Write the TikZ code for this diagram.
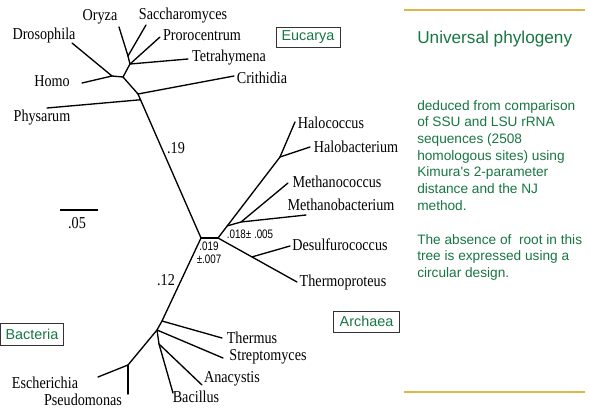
\documentclass[tikz,border=0pt]{standalone}
\usepackage{fontspec}
\setmainfont{Liberation Serif}
\newfontfamily\arial{Liberation Sans}
\usetikzlibrary{calc}
\definecolor{tgreen}{RGB}{24,118,66}
\definecolor{gold}{RGB}{222,182,72}
\newcommand\cmpr[1]{\scalebox{0.85}[1]{#1}}
\newcommand\cmprs[1]{\scalebox{0.8}[1]{#1}}
\begin{document}
\begin{tikzpicture}[x=0.75pt,y=-0.75pt,
  br/.style={line width=1pt, line cap=round, line join=round},
  leaf/.style={font=\fontsize{12.5}{13}\selectfont, inner sep=0pt},
  small/.style={font=\arial\fontsize{9.2}{10}\selectfont, inner sep=0pt},
  grp/.style={draw=black!80, line width=0.6pt, fill=white, font=\arial\fontsize{10.8}{12}\selectfont, text=tgreen, inner sep=0pt},
  rule/.style={draw=gold, line width=1.6pt},
  body/.style={font=\arial\fontsize{10.25}{12.5}\selectfont, text=tgreen, inner sep=0pt, align=left}]
\useasboundingbox (0,0) rectangle (590,408);

% ---------- internal coordinates ----------
\coordinate (m) at (201,238);
\coordinate (a) at (218,238);
\coordinate (e1) at (128,56);
\coordinate (e2) at (130,64);
\coordinate (e3) at (123,77);
\coordinate (e4) at (112,76);
\coordinate (e5) at (138,94);
\coordinate (ah) at (280,157);
\coordinate (am) at (241,222);
\coordinate (b1) at (162,321);
\coordinate (b2) at (157,330);
\coordinate (b3) at (159,344);
\coordinate (b4) at (128,365);

% ---------- leaf ends ----------
\coordinate (oE) at (119,27);
\coordinate (sE) at (146,25);
\coordinate (pE) at (160,37);
\coordinate (tE) at (188,59);
\coordinate (dE) at (72,43);
\coordinate (hE) at (82,83);
\coordinate (cE) at (234,76);
\coordinate (phE) at (47,108);
\coordinate (hcE) at (295,122);
\coordinate (hbE) at (310,147);
\coordinate (mcE) at (288,183);
\coordinate (mbE) at (306,215);
\coordinate (dsE) at (290,246);
\coordinate (tpE) at (297,282);
\coordinate (thE) at (222,338);
\coordinate (stE) at (223,358);
\coordinate (anE) at (202,385);
\coordinate (baE) at (173,393);
\coordinate (esE) at (98,377);
\coordinate (psE) at (128,394);

% ---------- branches ----------
\draw[br] (oE) -- (e1) -- (sE);
\draw[br] (e1) -- (e2);
\draw[br] (pE) -- (e2) -- (tE);
\draw[br] (e2) -- (e3) -- (e4);
\draw[br] (dE) -- (e4) -- (hE);
\draw[br] (e3) -- (e5) -- (cE);
\draw[br] (e5) -- (m);
\draw[br] (phE) -- ($(e5)!0.04!(m)$);
\draw[br] (m) -- (a);
\draw[br] (a) -- (ah) -- (hcE);
\draw[br] (ah) -- (hbE);
\draw[br] ($(a)!0.15!(ah)$) -- (am);
\draw[br] (mcE) -- (am) -- (mbE);
\draw[br] (a) -- (tpE);
\draw[br] ($(a)!0.43!(tpE)$) -- (dsE);
\draw[br] (m) -- (b1) -- (thE);
\draw[br] (b1) -- (b2) -- (stE);
\draw[br] (b2) -- (b3) -- (anE);
\draw[br] (b3) -- (baE);
\draw[br] (b2) -- (b4) -- (esE);
\draw[br] (b4) -- (psE);

% scale bar
\coordinate (s1) at (60,210);
\coordinate (s2) at (98,210);
\draw[br, line cap=butt] (s1) -- (s2);
\node[leaf] (sc) at (77,223) {\cmpr{.05}};

% ---------- leaf labels ----------
\node[leaf] (Oryza) at (100,17) {\cmpr{Oryza}};
\node[leaf] (Sacch) at (183,16) {\cmpr{Saccharomyces}};
\node[leaf] (Proro) at (202,35) {\cmpr{Prorocentrum}};
\node[leaf] (Tetra) at (229,58) {\cmpr{Tetrahymena}};
\node[leaf] (Droso) at (44,35) {\cmpr{Drosophila}};
\node[leaf] (Homo) at (52,81) {\cmpr{Homo}};
\node[leaf] (Crith) at (262,78) {\cmpr{Crithidia}};
\node[leaf] (Physa) at (42,118) {\cmpr{Physarum}};
\node[leaf] (Haloc) at (331,123) {\cmpr{Halococcus}};
\node[leaf] (Halob) at (356,147) {\cmpr{Halobacterium}};
\node[leaf] (Metc) at (337,182) {\cmpr{Methanococcus}};
\node[leaf] (Metb) at (341,205) {\cmpr{Methanobacterium}};
\node[leaf] (Desul) at (340,245) {\cmpr{Desulfurococcus}};
\node[leaf] (Therp) at (343,282) {\cmpr{Thermoproteus}};
\node[leaf] (Therm) at (252,338) {\cmpr{Thermus}};
\node[leaf] (Strep) at (268,357) {\cmpr{Streptomyces}};
\node[leaf] (Anac) at (232,379) {\cmpr{Anacystis}};
\node[leaf] (Bacil) at (196,397) {\cmpr{Bacillus}};
\node[leaf] (Esch) at (45,383) {\cmpr{Escherichia}};
\node[leaf] (Pseud) at (83,400) {\cmpr{Pseudomonas}};

% ---------- branch values ----------
\node[leaf] (v19) at (176,148) {\cmpr{.19}};
\node[leaf] (v12) at (166,280) {\cmpr{.12}};
\node[small] (v019) at (209,246) {\cmprs{.019}};
\node[small] (v007) at (209,259) {\cmprs{±.007}};
\node[small] (v018) at (250,234) {\cmprs{.018± .005}};

% ---------- group boxes ----------
\node[grp, minimum width=48pt, minimum height=15pt] (Euc) at (308,37) {Eucarya};
\node[grp, minimum width=47pt, minimum height=16.5pt] (Bac) at (32,334) {Bacteria};
\node[grp, minimum width=50pt, minimum height=15.75pt] (Arc) at (366.5,321.5) {Archaea};

% ---------- right panel ----------
\coordinate (r1) at (404,10);
\coordinate (r2) at (585,10);
\coordinate (r3) at (404,392);
\coordinate (r4) at (585,392);
\draw[rule] (r1) -- (r2);
\draw[rule] (r3) -- (r4);
\node[anchor=base west, inner sep=0pt, font=\arial\fontsize{12.9}{14}\selectfont, text=tgreen] (title) at (417,43) {Universal phylogeny};
\node[body, anchor=north west] (desc) at (417,100) {deduced from comparison\\of SSU and LSU rRNA\\sequences (2508\\homologous sites) using\\Kimura's 2-parameter\\distance and the NJ\\method.};
\node[body, anchor=north west] (note) at (417,234) {The absence of \ root in this\\tree is expressed using a\\circular design.};
\end{tikzpicture}
\end{document}
